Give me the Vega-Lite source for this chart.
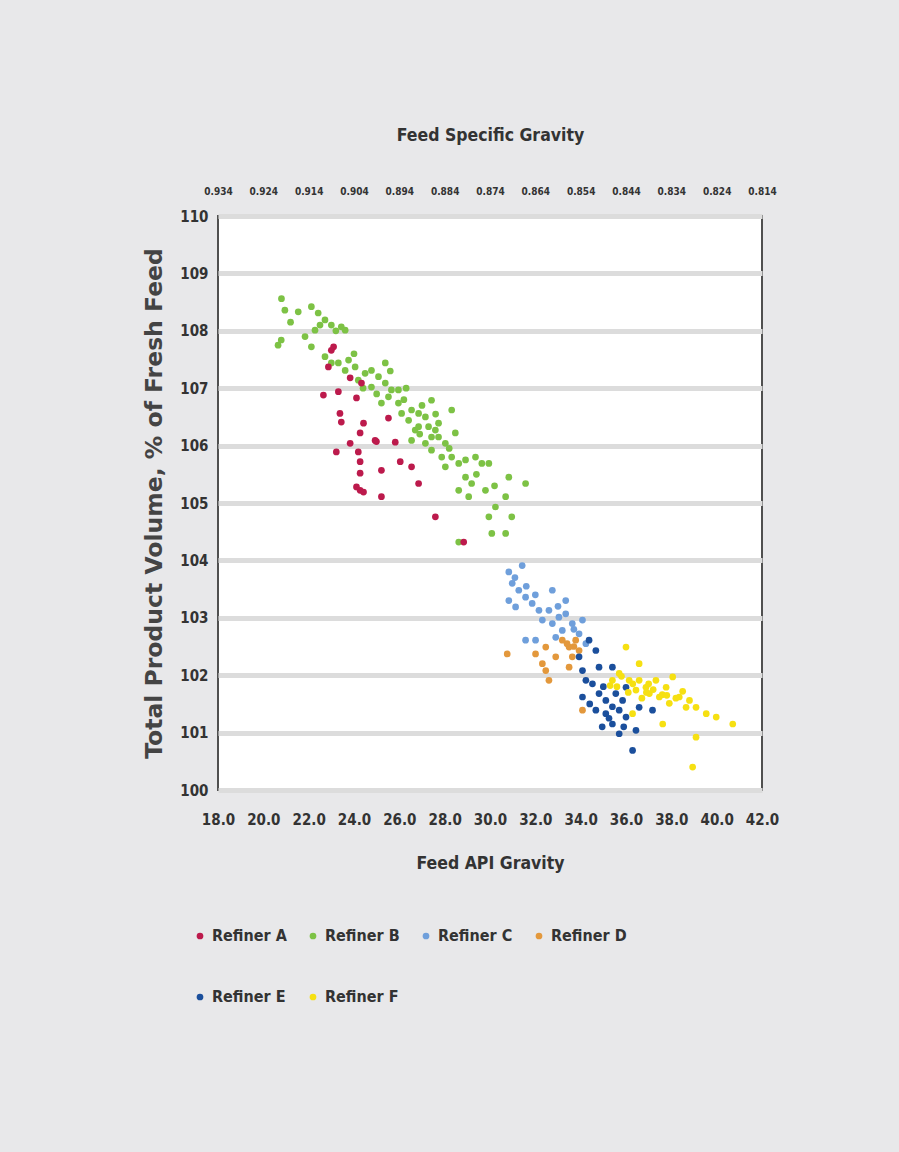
{
  "$schema": "https://vega.github.io/schema/vega-lite/v6.json",
  "autosize": "none",
  "padding": {"left": 218, "top": 216, "right": 137, "bottom": 362},
  "width": 544,
  "height": 574,
  "background": "#e8e8ea",
  "config": {
    "font": "'DejaVu Sans Condensed', 'Liberation Sans', sans-serif",
    "view": {"fill": "white", "stroke": "#505050", "strokeWidth": 2}
  },
  "data": {"values": [
    {"r":"Refiner B","api":20.80,"v":108.56},{"r":"Refiner B","api":20.95,"v":108.36},{"r":"Refiner B","api":21.54,"v":108.33},{"r":"Refiner B","api":22.12,"v":108.42},{"r":"Refiner B","api":22.42,"v":108.31},{"r":"Refiner B","api":22.72,"v":108.19},{"r":"Refiner B","api":23.00,"v":108.10},{"r":"Refiner B","api":23.44,"v":108.07},{"r":"Refiner B","api":23.61,"v":108.01},{"r":"Refiner B","api":20.79,"v":107.84},{"r":"Refiner B","api":20.65,"v":107.75},{"r":"Refiner B","api":21.84,"v":107.90},{"r":"Refiner B","api":22.12,"v":107.72},{"r":"Refiner B","api":22.28,"v":108.01},{"r":"Refiner B","api":22.72,"v":107.55},{"r":"Refiner B","api":23.31,"v":107.44},{"r":"Refiner B","api":23.76,"v":107.49},{"r":"Refiner B","api":24.05,"v":107.37},{"r":"Refiner B","api":24.49,"v":107.26},{"r":"Refiner B","api":24.77,"v":107.31},{"r":"Refiner B","api":25.08,"v":107.20},{"r":"Refiner B","api":25.38,"v":107.44},{"r":"Refiner B","api":25.38,"v":107.09},{"r":"Refiner B","api":25.65,"v":106.97},{"r":"Refiner B","api":24.77,"v":107.02},{"r":"Refiner B","api":25.21,"v":106.74},{"r":"Refiner B","api":25.96,"v":106.74},{"r":"Refiner B","api":26.10,"v":106.56},{"r":"Refiner B","api":26.54,"v":106.62},{"r":"Refiner B","api":26.85,"v":106.56},{"r":"Refiner B","api":27.15,"v":106.50},{"r":"Refiner B","api":27.42,"v":106.79},{"r":"Refiner B","api":27.29,"v":106.33},{"r":"Refiner B","api":27.59,"v":106.27},{"r":"Refiner B","api":27.73,"v":106.15},{"r":"Refiner B","api":26.70,"v":106.27},{"r":"Refiner B","api":26.54,"v":106.09},{"r":"Refiner B","api":27.15,"v":106.04},{"r":"Refiner B","api":27.42,"v":105.92},{"r":"Refiner B","api":27.87,"v":105.80},{"r":"Refiner B","api":28.31,"v":106.62},{"r":"Refiner B","api":28.47,"v":106.22},{"r":"Refiner B","api":28.31,"v":105.80},{"r":"Refiner B","api":28.03,"v":105.63},{"r":"Refiner B","api":28.62,"v":105.69},{"r":"Refiner B","api":28.92,"v":105.75},{"r":"Refiner B","api":29.36,"v":105.80},{"r":"Refiner B","api":29.64,"v":105.69},{"r":"Refiner B","api":29.95,"v":105.69},{"r":"Refiner B","api":28.92,"v":105.45},{"r":"Refiner B","api":29.19,"v":105.34},{"r":"Refiner B","api":28.62,"v":105.22},{"r":"Refiner B","api":29.06,"v":105.11},{"r":"Refiner B","api":29.80,"v":105.22},{"r":"Refiner B","api":30.83,"v":105.45},{"r":"Refiner B","api":31.57,"v":105.34},{"r":"Refiner B","api":30.69,"v":105.11},{"r":"Refiner B","api":30.24,"v":104.93},{"r":"Refiner B","api":29.95,"v":104.76},{"r":"Refiner B","api":30.96,"v":104.76},{"r":"Refiner B","api":30.08,"v":104.47},{"r":"Refiner B","api":30.69,"v":104.47},{"r":"Refiner B","api":28.62,"v":104.32},{"r":"Refiner B","api":25.52,"v":106.85},{"r":"Refiner B","api":25.96,"v":106.97},{"r":"Refiner B","api":26.41,"v":106.44},{"r":"Refiner B","api":26.85,"v":106.33},{"r":"Refiner B","api":27.42,"v":106.15},{"r":"Refiner B","api":27.73,"v":106.39},{"r":"Refiner B","api":28.03,"v":106.04},{"r":"Refiner B","api":24.19,"v":107.14},{"r":"Refiner B","api":23.61,"v":107.31},{"r":"Refiner B","api":23.00,"v":107.44},{"r":"Refiner B","api":22.50,"v":108.10},{"r":"Refiner B","api":23.20,"v":108.00},{"r":"Refiner B","api":21.20,"v":108.15},{"r":"Refiner B","api":24.40,"v":107.00},{"r":"Refiner B","api":25.00,"v":106.90},{"r":"Refiner B","api":26.20,"v":106.80},{"r":"Refiner B","api":26.90,"v":106.20},{"r":"Refiner B","api":27.60,"v":106.55},{"r":"Refiner B","api":28.20,"v":105.95},{"r":"Refiner B","api":29.40,"v":105.50},{"r":"Refiner B","api":30.20,"v":105.30},{"r":"Refiner B","api":27.00,"v":106.70},{"r":"Refiner B","api":26.30,"v":107.00},{"r":"Refiner B","api":24.00,"v":107.60},{"r":"Refiner B","api":25.60,"v":107.30},
    {"r":"Refiner C","api":30.83,"v":103.80},{"r":"Refiner C","api":31.42,"v":103.91},{"r":"Refiner C","api":30.98,"v":103.60},{"r":"Refiner C","api":31.27,"v":103.48},{"r":"Refiner C","api":30.83,"v":103.30},{"r":"Refiner C","api":31.13,"v":103.19},{"r":"Refiner C","api":31.57,"v":103.36},{"r":"Refiner C","api":31.86,"v":103.25},{"r":"Refiner C","api":32.16,"v":103.13},{"r":"Refiner C","api":32.75,"v":103.48},{"r":"Refiner C","api":32.60,"v":103.13},{"r":"Refiner C","api":32.31,"v":102.96},{"r":"Refiner C","api":32.75,"v":102.90},{"r":"Refiner C","api":33.04,"v":103.01},{"r":"Refiner C","api":33.34,"v":103.30},{"r":"Refiner C","api":33.34,"v":103.07},{"r":"Refiner C","api":33.19,"v":102.78},{"r":"Refiner C","api":33.63,"v":102.90},{"r":"Refiner C","api":34.08,"v":102.96},{"r":"Refiner C","api":33.93,"v":102.72},{"r":"Refiner C","api":31.57,"v":102.61},{"r":"Refiner C","api":32.01,"v":102.61},{"r":"Refiner C","api":32.90,"v":102.66},{"r":"Refiner C","api":34.23,"v":102.55},{"r":"Refiner C","api":31.10,"v":103.70},{"r":"Refiner C","api":31.60,"v":103.55},{"r":"Refiner C","api":32.00,"v":103.40},{"r":"Refiner C","api":33.00,"v":103.20},{"r":"Refiner C","api":33.70,"v":102.80},
    {"r":"Refiner D","api":30.76,"v":102.37},{"r":"Refiner D","api":32.01,"v":102.37},{"r":"Refiner D","api":32.46,"v":102.49},{"r":"Refiner D","api":32.90,"v":102.32},{"r":"Refiner D","api":32.31,"v":102.20},{"r":"Refiner D","api":32.46,"v":102.08},{"r":"Refiner D","api":32.60,"v":101.91},{"r":"Refiner D","api":33.19,"v":102.61},{"r":"Refiner D","api":33.49,"v":102.49},{"r":"Refiner D","api":33.78,"v":102.61},{"r":"Refiner D","api":33.93,"v":102.43},{"r":"Refiner D","api":33.63,"v":102.32},{"r":"Refiner D","api":33.49,"v":102.14},{"r":"Refiner D","api":34.08,"v":101.39},{"r":"Refiner D","api":33.40,"v":102.55},{"r":"Refiner D","api":33.70,"v":102.50},
    {"r":"Refiner E","api":34.37,"v":102.61},{"r":"Refiner E","api":34.67,"v":102.43},{"r":"Refiner E","api":33.93,"v":102.32},{"r":"Refiner E","api":34.08,"v":102.08},{"r":"Refiner E","api":34.81,"v":102.14},{"r":"Refiner E","api":35.40,"v":102.14},{"r":"Refiner E","api":34.52,"v":101.85},{"r":"Refiner E","api":34.08,"v":101.62},{"r":"Refiner E","api":34.81,"v":101.68},{"r":"Refiner E","api":35.11,"v":101.56},{"r":"Refiner E","api":34.67,"v":101.39},{"r":"Refiner E","api":35.11,"v":101.33},{"r":"Refiner E","api":35.70,"v":101.39},{"r":"Refiner E","api":35.40,"v":101.15},{"r":"Refiner E","api":35.70,"v":100.98},{"r":"Refiner E","api":36.00,"v":101.27},{"r":"Refiner E","api":35.55,"v":101.68},{"r":"Refiner E","api":36.58,"v":101.44},{"r":"Refiner E","api":36.44,"v":101.04},{"r":"Refiner E","api":36.29,"v":100.69},{"r":"Refiner E","api":37.17,"v":101.39},{"r":"Refiner E","api":35.85,"v":101.56},{"r":"Refiner E","api":34.23,"v":101.91},{"r":"Refiner E","api":36.00,"v":101.79},{"r":"Refiner E","api":35.25,"v":101.25},{"r":"Refiner E","api":34.95,"v":101.10},{"r":"Refiner E","api":34.40,"v":101.50},{"r":"Refiner E","api":35.00,"v":101.80},{"r":"Refiner E","api":35.90,"v":101.10},{"r":"Refiner E","api":35.40,"v":101.45},
    {"r":"Refiner F","api":36.00,"v":102.49},{"r":"Refiner F","api":36.58,"v":102.20},{"r":"Refiner F","api":35.70,"v":102.03},{"r":"Refiner F","api":36.14,"v":101.91},{"r":"Refiner F","api":36.58,"v":101.91},{"r":"Refiner F","api":36.88,"v":101.79},{"r":"Refiner F","api":37.32,"v":101.91},{"r":"Refiner F","api":37.77,"v":101.79},{"r":"Refiner F","api":38.06,"v":101.97},{"r":"Refiner F","api":37.47,"v":101.62},{"r":"Refiner F","api":38.35,"v":101.62},{"r":"Refiner F","api":38.80,"v":101.56},{"r":"Refiner F","api":39.09,"v":101.44},{"r":"Refiner F","api":39.54,"v":101.33},{"r":"Refiner F","api":39.98,"v":101.27},{"r":"Refiner F","api":40.71,"v":101.15},{"r":"Refiner F","api":37.62,"v":101.15},{"r":"Refiner F","api":39.09,"v":100.92},{"r":"Refiner F","api":38.94,"v":100.40},{"r":"Refiner F","api":36.44,"v":101.74},{"r":"Refiner F","api":37.03,"v":101.68},{"r":"Refiner F","api":35.40,"v":101.91},{"r":"Refiner F","api":36.29,"v":101.33},{"r":"Refiner F","api":37.91,"v":101.51},{"r":"Refiner F","api":38.65,"v":101.44},{"r":"Refiner F","api":35.80,"v":101.98},{"r":"Refiner F","api":36.30,"v":101.85},{"r":"Refiner F","api":36.90,"v":101.70},{"r":"Refiner F","api":37.20,"v":101.75},{"r":"Refiner F","api":37.60,"v":101.66},{"r":"Refiner F","api":38.20,"v":101.60},{"r":"Refiner F","api":36.70,"v":101.60},{"r":"Refiner F","api":35.30,"v":101.82},{"r":"Refiner F","api":38.50,"v":101.72},{"r":"Refiner F","api":36.10,"v":101.70},{"r":"Refiner F","api":37.00,"v":101.85},{"r":"Refiner F","api":37.80,"v":101.65},{"r":"Refiner F","api":35.60,"v":101.80},
    {"r":"Refiner A","api":23.00,"v":107.66},{"r":"Refiner A","api":22.87,"v":107.37},{"r":"Refiner A","api":23.83,"v":107.18},{"r":"Refiner A","api":24.33,"v":107.09},{"r":"Refiner A","api":22.65,"v":106.88},{"r":"Refiner A","api":23.31,"v":106.94},{"r":"Refiner A","api":24.11,"v":106.83},{"r":"Refiner A","api":23.38,"v":106.56},{"r":"Refiner A","api":23.44,"v":106.41},{"r":"Refiner A","api":25.52,"v":106.48},{"r":"Refiner A","api":24.42,"v":106.39},{"r":"Refiner A","api":24.27,"v":106.22},{"r":"Refiner A","api":24.93,"v":106.09},{"r":"Refiner A","api":23.83,"v":106.04},{"r":"Refiner A","api":25.82,"v":106.06},{"r":"Refiner A","api":23.22,"v":105.89},{"r":"Refiner A","api":24.19,"v":105.89},{"r":"Refiner A","api":24.27,"v":105.72},{"r":"Refiner A","api":25.21,"v":105.57},{"r":"Refiner A","api":26.04,"v":105.72},{"r":"Refiner A","api":26.54,"v":105.63},{"r":"Refiner A","api":24.27,"v":105.52},{"r":"Refiner A","api":26.85,"v":105.34},{"r":"Refiner A","api":24.27,"v":105.22},{"r":"Refiner A","api":25.21,"v":105.11},{"r":"Refiner A","api":27.59,"v":104.76},{"r":"Refiner A","api":28.84,"v":104.32},{"r":"Refiner A","api":24.11,"v":105.28},{"r":"Refiner A","api":24.42,"v":105.19},{"r":"Refiner A","api":24.99,"v":106.07},{"r":"Refiner A","api":23.10,"v":107.72}
  ]},
  "resolve": {"axis": {"x": "independent"}},
  "layer": [
    {
      "mark": {"type": "circle", "size": 45, "opacity": 1},
      "encoding": {
        "x": {"field": "api", "type": "quantitative",
              "scale": {"domain": [18, 42], "nice": false, "zero": false},
              "axis": {"orient": "bottom", "values": [18,20,22,24,26,28,30,32,34,36,38,40,42], "format": ".1f",
                       "grid": false, "domain": false, "ticks": false, "labelPadding": 22, "labelFlush": false, "labelOverlap": false,
                       "labelFontSize": 15, "labelFontWeight": "bold", "labelColor": "#333",
                       "title": "Feed API Gravity", "titleFontSize": 17.5, "titleFontWeight": "bold", "titleColor": "#333", "titlePadding": 27}},
        "y": {"field": "v", "type": "quantitative",
              "scale": {"domain": [100, 110], "nice": false, "zero": false},
              "axis": {"values": [100,101,102,103,104,105,106,107,108,109,110], "format": "d", "grid": true, "gridColor": "#dcdcdc", "gridWidth": 5,
                       "domain": false, "ticks": false, "labelPadding": 10, "labelFlush": false,
                       "labelFontSize": 15, "labelFontWeight": "bold", "labelColor": "#333",
                       "title": "Total Product Volume, % of Fresh Feed", "titleFont": "DejaVu Sans", "titleFontSize": 23.5, "titleFontWeight": "bold", "titleColor": "#444", "titlePadding": 13}},
        "color": {"field": "r", "type": "nominal",
                  "scale": {"domain": ["Refiner A","Refiner B","Refiner C","Refiner D","Refiner E","Refiner F"],
                            "range": ["#bc1a4c","#7dc245","#6f9fdb","#e3983c","#1b4f9c","#f6e012"]},
                  "legend": {"orient": "none", "legendX": -26, "legendY": 712, "title": null, "columns": 4, "direction": "horizontal",
                             "symbolType": "circle", "symbolSize": 45, "labelFontSize": 16, "labelFontWeight": "bold",
                             "labelColor": "#333", "rowPadding": 45, "columnPadding": 18, "labelOffset": 4}}
      }
    },
    {
      "mark": {"type": "circle", "opacity": 0},
      "encoding": {
        "x": {"field": "api", "type": "quantitative",
              "axis": {"orient": "top", "values": [18,20,22,24,26,28,30,32,34,36,38,40,42],
                       "labelExpr": "format(0.934 - (datum.value - 18) * 0.005, '.3f')",
                       "grid": false, "domain": false, "ticks": false, "labelPadding": 20, "labelFlush": false, "labelOverlap": false,
                       "labelFontSize": 10, "labelFontWeight": "bold", "labelColor": "#333",
                       "title": "Feed Specific Gravity", "titleFontSize": 17.5, "titleFontWeight": "bold", "titleColor": "#333", "titlePadding": 42}},
        "y": {"field": "v", "type": "quantitative"}
      }
    }
  ]
}
